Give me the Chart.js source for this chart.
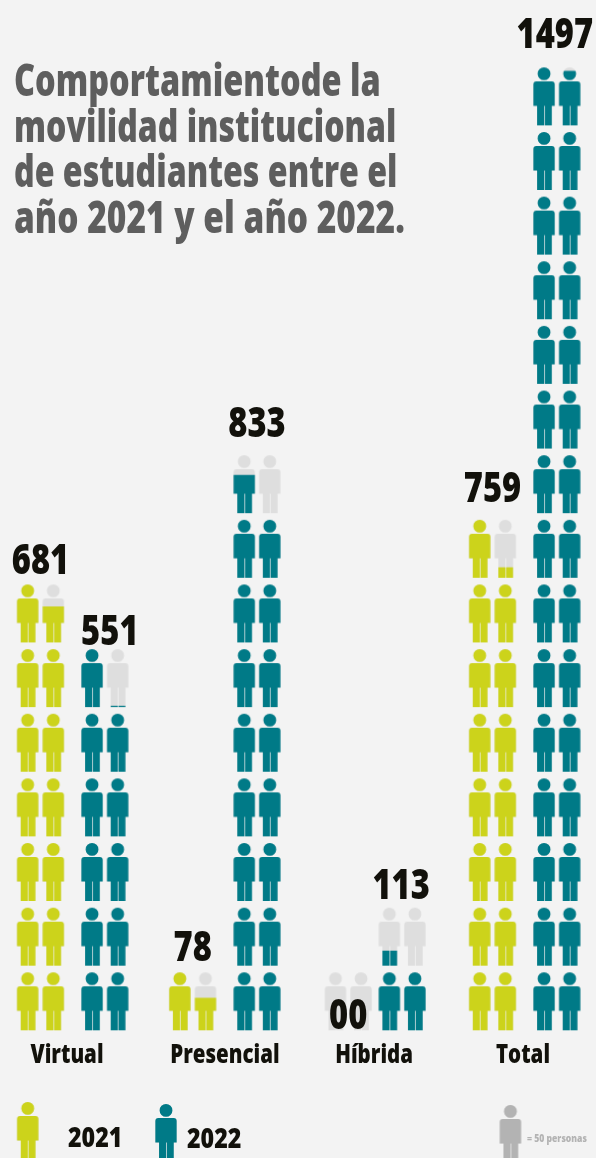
<!DOCTYPE html>
<html>
<head>
<meta charset="utf-8">
<title>Movilidad institucional</title>
<script src="https://cdn.jsdelivr.net/npm/chart.js@4"></script>
<style>
  html, body { margin: 0; padding: 0; background: #f3f3f3; }
  canvas { display: block; }
</style>
</head>
<body>
<canvas id="chart" width="596" height="1158"></canvas>
<script>
const categories = ["Virtual", "Presencial", "Híbrida", "Total"];
const values2021 = [681, 78, 0, 759];
const values2022 = [551, 833, 113, 1497];
const titleLines = [
  "Comportamientode la",
  "movilidad institucional",
  "de estudiantes entre el",
  "año 2021 y el año 2022."
];
const PERSONS_PER_ICON = 50;
const unitNote = "= 50 personas";

const LIME = "#ccd31b";
const TEAL = "#007a87";
const EMPTY = "#dedede";
const NOTE = "#b3b3b3";
const INK = "#12110b";
const FONT = '"Open Sans", sans-serif';

// layout, in x scale units (1 unit = distance between groups)
const centres2021 = [-0.2137, -0.204, -0.1715, -0.2143];
const centres2022 = [0.2133, 0.223, 0.186, 0.2127];
const slotGap = 0.17;
const tickPos = [-0.038, 0.01, 0, -0.012];
const rowMid = 44.9; // icon centre inside its row of 100 persons
const iconTop = 89.7; // icon top inside its row
// px between icon top and number baseline, the source is not regular
const lift2021 = [10, 11, -57, 18];
const lift2022 = [4, 18, 9, 19];
const nudge2022 = [5, 0, -1, -2];
const titleSqueeze = [0.738, 0.728, 0.73, 0.76];

const iconCache = {};
function personPath(c) {
  const w = 21.3, ox = 1.35, oy = 1;
  c.beginPath();
  c.arc(ox + w / 2, oy + 6.4, 6.4, 0, Math.PI * 2);
  c.closePath();
  c.roundRect(ox, oy + 14, w, 24.6, [3, 3, 0, 0]);
  c.rect(ox + 3.7, oy + 38, 7, 20);
  c.rect(ox + 11.4, oy + 38, 7, 20);
}
function personIcon(color, fill) {
  const key = color + fill;
  if (iconCache[key]) return iconCache[key];
  const cv = document.createElement("canvas");
  cv.width = 24;
  cv.height = 60;
  const c = cv.getContext("2d");
  personPath(c);
  c.fillStyle = EMPTY;
  c.fill();
  if (fill > 0) {
    c.save();
    c.beginPath();
    c.rect(0, 1 + 58 * (1 - fill), 24, 60);
    c.clip();
    personPath(c);
    c.fillStyle = color;
    c.fill();
    c.restore();
  }
  iconCache[key] = cv;
  return cv;
}

function rowsOf(v) {
  return Math.max(1, Math.ceil(v / 100));
}

function iconPoints(values, centres) {
  const pts = [];
  values.forEach((v, g) => {
    for (let r = 0; r < rowsOf(v); r++) {
      for (let s = 0; s < 2; s++) {
        const from = r * 100 + s * PERSONS_PER_ICON;
        const fill = Math.min(1, Math.max(0, (v - from) / PERSONS_PER_ICON));
        pts.push({ x: g + centres[g] + (s ? 0.5 : -0.5) * slotGap, y: r * 100 + rowMid, fill });
      }
    }
  });
  return pts;
}

// no condensed bold installed, so squeeze the text sideways
function put(ctx, text, x, y, size, color, align, scaleX) {
  ctx.save();
  ctx.font = "800 " + size + "px " + FONT;
  ctx.fillStyle = color;
  ctx.textAlign = align;
  ctx.textBaseline = "alphabetic";
  ctx.translate(x, y);
  ctx.scale(scaleX, 1);
  ctx.fillText(text, 0, 0);
  ctx.restore();
}

const extras = {
  id: "extras",
  afterDatasetsDraw(chart) {
    const ctx = chart.ctx;
    const xs = chart.scales.x, ys = chart.scales.y;

    // numbers above the columns
    const label = (values, centres, lift, nudge) => {
      values.forEach((v, g) => {
        const top = ys.getPixelForValue((rowsOf(v) - 1) * 100 + iconTop);
        const text = v === 0 ? "00" : String(v);
        put(ctx, text, xs.getPixelForValue(g + centres[g]) + (nudge ? nudge[g] : 0), top - lift[g], 43, INK, "center", 0.76);
      });
    };
    label(values2021, centres2021, lift2021);
    label(values2022, centres2022, lift2022, nudge2022);

    // category labels under the groups
    categories.forEach((name, i) => {
      put(ctx, name, xs.getPixelForValue(i + tickPos[i]), ys.bottom + 32.4, 27, INK, "center", 0.76);
    });

    // title
    const baselines = [96, 141.7, 186.7, 232.7];
    titleLines.forEach((line, i) => put(ctx, line, 14, baselines[i], 44, "#5e5e5e", "left", titleSqueeze[i]));

    // legend
    ctx.drawImage(personIcon(LIME, 1), 15.7, 1101);
    put(ctx, "2021", 68, 1147, 29, INK, "left", 0.8);
    ctx.drawImage(personIcon(TEAL, 1), 154, 1103);
    put(ctx, "2022", 187, 1148, 29, INK, "left", 0.8);
    ctx.drawImage(personIcon(NOTE, 1), 498.4, 1104);
    put(ctx, unitNote, 527, 1142, 11, NOTE, "left", 0.78);
  }
};

new Chart(document.getElementById("chart"), {
  type: "scatter",
  data: {
    datasets: [
      {
        label: "2021",
        data: iconPoints(values2021, centres2021),
        clip: false,
        pointStyle: (c) => (c.raw ? personIcon(LIME, c.raw.fill) : "circle")
      },
      {
        label: "2022",
        data: iconPoints(values2022, centres2022),
        clip: false,
        pointStyle: (c) => (c.raw ? personIcon(TEAL, c.raw.fill) : "circle")
      }
    ]
  },
  options: {
    responsive: false,
    animation: false,
    events: [],
    layout: { padding: 0, autoPadding: false },
    plugins: { legend: { display: false }, tooltip: { enabled: false } },
    scales: {
      x: {
        type: "linear",
        min: -0.4824,
        max: 3.4725,
        grid: { display: false },
        border: { display: false },
        ticks: { display: false },
        afterFit: (scale) => {
          scale.height = 127.7;
        }
      },
      y: { display: false, min: 0, max: 1593.9 }
    }
  },
  plugins: [extras]
});
</script>
</body>
</html>
